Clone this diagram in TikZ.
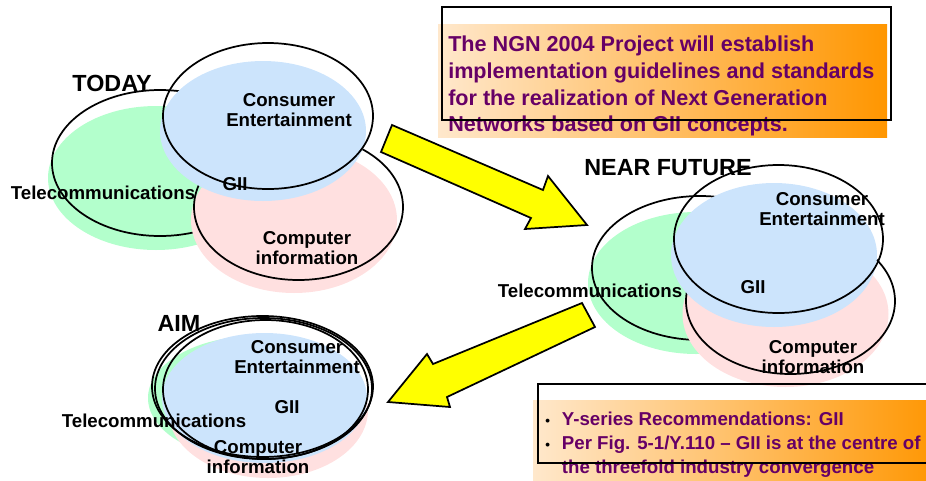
\documentclass[tikz,border=0pt]{standalone}
\usepackage{fontspec}
\setmainfont{Liberation Sans}

\definecolor{telegreen}{RGB}{179,255,204}
\definecolor{consblue}{RGB}{204,228,252}
\definecolor{comppink}{RGB}{255,224,224}
\definecolor{ngnpurple}{RGB}{102,0,102}
\definecolor{peach}{RGB}{255,232,204}
\definecolor{ngnorange}{RGB}{255,150,0}
\definecolor{arrowyellow}{RGB}{255,255,0}

\newcommand{\ngnbullet}{{\fontsize{10}{10}\selectfont\color{black}\textbullet}\hspace{9pt}}

\tikzset{
	lbl/.style={font=\fontsize{14}{15}\selectfont\bfseries, inner sep=0.75pt, align=center},
	era/.style={font=\fontsize{17.5}{20}\selectfont\bfseries, inner sep=0.75pt},
	ring/.style={line width=1.3pt},
	blockarrow/.style={fill=arrowyellow, draw=black, line width=1.3pt, line join=miter},
	note/.style={font=\fontsize{16.2}{20}\selectfont\bfseries, text=ngnpurple, inner sep=0pt, align=left},
	bullets/.style={font=\fontsize{14}{18}\selectfont\bfseries, text=ngnpurple, inner sep=0pt, align=left},
}

\begin{document}
\begin{tikzpicture}[x=0.75pt,y=0.75pt,yscale=-1,xscale=1]
	\clip (0,0) rectangle (926,480);

	%TODAY: telecom, computer, consumer
	\fill[telegreen] (156,178) ellipse (108 and 72);
	\draw[ring] (160,163) ellipse (108 and 73);
	\fill[comppink] (294,220) ellipse (103 and 73);
	\draw[ring] (298.5,207) ellipse (104.5 and 73);
	\fill[consblue] (263,131) ellipse (103 and 70);
	\draw[ring] (268,116) ellipse (105 and 73);

	%NEAR FUTURE
	\fill[telegreen] (696,283) ellipse (108 and 71);
	\draw[ring] (700,268) ellipse (108 and 72);
	\fill[comppink] (785.5,314) ellipse (103 and 73);
	\draw[ring] (790.5,301) ellipse (104.5 and 73);
	\fill[consblue] (774,255) ellipse (103 and 72);
	\draw[ring] (778.5,239) ellipse (104.5 and 74);

	%AIM
	\fill[telegreen] (256,398) ellipse (108 and 62);
	\fill[comppink] (268,410) ellipse (100 and 68);
	\fill[consblue] (264.5,398) ellipse (102.5 and 65);
	\draw[ring] (262.5,386.5) ellipse (110.5 and 70.5);
	\draw[ring] (263.5,388.5) ellipse (108.5 and 70.5);
	\draw[ring] (265.5,389.5) ellipse (102.5 and 69.5);

	%Block arrows
	\filldraw[blockarrow] (392,125) -- (543,190) -- (548,176) -- (587,225) -- (525,229) -- (531,218) -- (381,152) -- cycle;
	\filldraw[blockarrow] (582,303) -- (433,364) -- (427,354) -- (388,402) -- (450,407) -- (447,397) -- (595,327) -- cycle;

	% Text Node
	\node[era] (today) at (112,83) {TODAY};
	\node[lbl] (todayCons) at (289,110) {Consumer\\Entertainment};
	\node[lbl] (todayTel) at (103,193) {Telecommunications};
	\node[lbl] (todayGii) at (235,184) {GII};
	\node[lbl] (todayComp) at (307,248) {Computer\\information};
	% Text Node
	\node[era] (nearFuture) at (668,168) {NEAR FUTURE};
	\node[lbl] (nearCons) at (822,209) {Consumer\\Entertainment};
	\node[lbl] (nearTel) at (590,291) {Telecommunications};
	\node[lbl] (nearGii) at (753,287) {GII};
	\node[lbl] (nearComp) at (813,357) {Computer\\information};
	% Text Node
	\node[era] (aim) at (179,323) {AIM};
	\node[lbl] (aimCons) at (297,357) {Consumer\\Entertainment};
	\node[lbl] (aimTel) at (154,421) {Telecommunications};
	\node[lbl] (aimGii) at (287,407) {GII};
	\node[lbl] (aimComp) at (258,457) {Computer\\information};

	% Text Node
	\shade[left color=peach, right color=ngnorange] (438,24) rectangle (887,137);
	\node[note, anchor=north west] (ngnNote) at (448,36) {The NGN 2004 Project will establish\\implementation guidelines and standards\\for the realization of Next Generation\\Networks based on GII concepts.};
	\draw[line width=1.3pt] (442,7) rectangle (891,120);

	% Text Node
	\shade[left color=peach, right color=ngnorange] (533,400) rectangle (940,490);
	\node[bullets, anchor=north west] (yNote) at (545,412) {\ngnbullet Y-series Recommendations: GII\\\ngnbullet Per Fig. 5-1/Y.110 -- GII is at the centre of\\\phantom{\ngnbullet}the threefold industry convergence};
	\draw[line width=1.3pt] (538,384) rectangle (940,463);
\end{tikzpicture}
\end{document}
